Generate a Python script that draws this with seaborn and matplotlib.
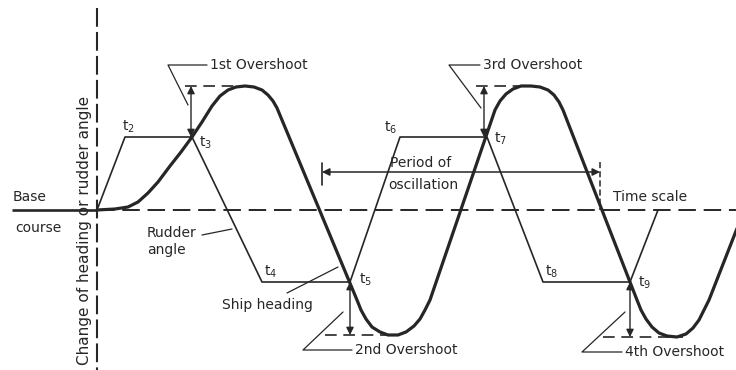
import matplotlib as mpl; mpl.use("Agg")
import matplotlib.pyplot as plt
import seaborn as sns
import pandas as pd

# ---- data (time units along the time scale, angle units from base course) ----
HEAD_T = [0, 18, 31, 41, 51, 61, 73, 84, 95, 105, 115, 123, 131, 139, 148, 157, 165, 171, 176, 180,
          260, 264, 269, 275, 283, 291, 301, 309, 317, 323, 328, 333,
          398, 403, 409, 416, 424, 434, 443, 451, 457, 462, 466,
          540, 544, 549, 555, 562, 570, 580, 589, 596, 602, 607, 612, 648]
HEAD_A = [0, 1, 3, 8, 17, 28, 44, 58, 73, 88, 104, 114, 120, 123, 124, 123, 120, 115, 109, 102,
          -90, -100, -109, -117, -122, -125, -125, -122, -116, -109, -100, -90,
          100, 109, 116, 121, 124, 124, 123, 120, 115, 108, 100,
          -90, -100, -109, -117, -123, -126, -127, -124, -118, -110, -100, -90, 2]
RUD_T = [0, 28, 95, 165, 253, 303, 390, 446, 533, 561]
RUD_A = [0, 73, 73, -72, -72, 73, 73, -72, -72, 0]
T_LABELS = ["t$_2$", "t$_3$", "t$_4$", "t$_5$", "t$_6$", "t$_7$", "t$_8$", "t$_9$"]
T_LAB_T = [31, 108, 174, 269, 294, 403, 455, 548]
T_LAB_A = [83, 67, -62, -70, 82, 71, -62, -73]
# overshoots: name, arrow time, checking level, extreme level, dashed span, label pos, leader elbow, leader tip
OS_NAME = ["1st Overshoot", "3rd Overshoot", "2nd Overshoot", "4th Overshoot"]
OS_T = [94, 387, 253, 533]
OS_LEVEL = [73, 73, -72, -72]
OS_PEAK = [124, 124, -125, -127]
OS_DASH = [(88, 143), (379, 422), (228, 290), (506, 586)]
OS_TEXT = [(113, 145), (386, 145), (258, -140), (528, -142)]
OS_ELBOW = [(71, 145), (352, 145), (206, -140), (485, -142)]
OS_TIP = [(91, 105), (384, 102), (246, -102), (528, -102)]
PERIOD = (225, 503, 38)

INK = "#262626"
sns.set_theme(style="white")
plt.rcParams["font.family"] = ["DejaVu Sans"]

fig = plt.figure(figsize=(7.36, 3.70), dpi=100)
ax = fig.add_axes([0, 0, 1, 1])
ax.set_xlim(-97, 639); ax.set_ylim(-160, 210)
ax.axis("off")

df_h = pd.DataFrame({"t": HEAD_T, "a": HEAD_A})
df_r = pd.DataFrame({"t": RUD_T, "a": RUD_A})
sns.lineplot(data=df_h, x="t", y="a", sort=False, estimator=None, color=INK, lw=2.3, ax=ax)
sns.lineplot(data=df_r, x="t", y="a", sort=False, estimator=None, color=INK, lw=1.2, ax=ax)

# base course / time scale / vertical axis
ax.plot([-85, 0], [0, 0], color=INK, lw=1.9, solid_capstyle="butt")
ax.plot([0, 639], [0, 0], color=INK, lw=1.4, dashes=(9, 4))
ax.plot([0, 0], [202, -160], color=INK, lw=1.5, dashes=(9, 2.5))

# overshoots
for name, t, lv, pk, (d0, d1), (tx, ty), el, tip in zip(OS_NAME, OS_T, OS_LEVEL, OS_PEAK,
                                                        OS_DASH, OS_TEXT, OS_ELBOW, OS_TIP):
    ax.plot([d0, d1], [pk, pk], color=INK, lw=1.2, dashes=(7, 4))
    ax.annotate("", xy=(t, pk), xytext=(t, lv),
                arrowprops=dict(arrowstyle="<|-|>", color=INK, lw=1.0, mutation_scale=11,
                                shrinkA=0, shrinkB=0))
    ax.plot([tx - 3, el[0], tip[0]], [ty, el[1], tip[1]], color=INK, lw=0.9)
    ax.text(tx, ty, name, ha="left", va="center", fontsize=10, color=INK)

for lab, t, a in zip(T_LABELS, T_LAB_T, T_LAB_A):
    ax.text(t, a, lab, ha="center", va="center", fontsize=10, color=INK)

# period of oscillation
p0, p1, pa = PERIOD
ax.annotate("", xy=(p0, pa), xytext=(p1, pa),
            arrowprops=dict(arrowstyle="<|-|>", color=INK, lw=1.1, mutation_scale=11,
                            shrinkA=0, shrinkB=0))
ax.plot([p0, p0], [pa + 9, pa - 13], color=INK, lw=1.2)
ax.plot([p1, p1], [pa + 10, 0], color=INK, lw=1.1, dashes=(4, 2))
ax.text(293, 47, "Period of", ha="left", va="center", fontsize=10, color=INK)
ax.text(291, 25, "oscillation", ha="left", va="center", fontsize=10, color=INK)

ax.text(516, 13, "Time scale", ha="left", va="center", fontsize=10, color=INK)
ax.text(-84, 13, "Base", ha="left", va="center", fontsize=10, color=INK)
ax.text(-82, -18, "course", ha="left", va="center", fontsize=10, color=INK)
ax.text(50, -23, "Rudder", ha="left", va="center", fontsize=10, color=INK)
ax.text(50, -40, "angle", ha="left", va="center", fontsize=10, color=INK)
ax.plot([105, 135], [-25, -19], color=INK, lw=0.9)
ax.text(125, -95, "Ship heading", ha="left", va="center", fontsize=10, color=INK)
ax.plot([190, 241], [-83, -57], color=INK, lw=0.9)
ax.text(-12, -20, "Change of heading or rudder angle", rotation=90, ha="center", va="center",
        fontsize=11, color=INK)

fig.savefig("out.png", dpi=100, facecolor="white")
